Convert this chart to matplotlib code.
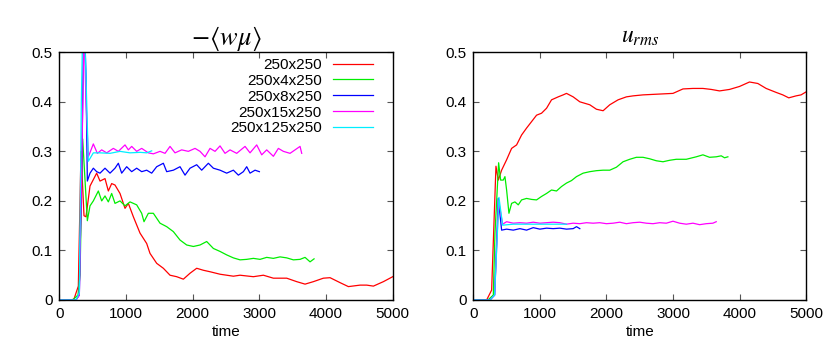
import matplotlib
matplotlib.use("Agg")
import matplotlib.pyplot as plt
from matplotlib.ticker import FuncFormatter

plt.rcParams['font.family'] = ['Liberation Sans', 'DejaVu Sans']
plt.rcParams['mathtext.fontset'] = 'stix'

labels = ["250x250", "250x4x250", "250x8x250", "250x15x250", "250x125x250"]
colors = ["#ff0000", "#00ee00", "#0000ff", "#ff00ff", "#00eeff"]

# ---- left panel: -<w mu> ----
L_red_t = [0, 180, 220, 285, 325, 370, 400, 460, 560, 610, 685, 735, 785, 835, 910, 985, 1035, 1110,
           1210, 1310, 1360, 1460, 1560, 1660, 1760, 1860, 1960, 2060, 2160, 2260, 2410, 2610, 2710,
           2910, 3060, 3210, 3410, 3560, 3685, 3810, 3960, 4060, 4210, 4335, 4510, 4610, 4710, 4860, 5000]
L_red_v = [0, 0, 0.002, 0.028, 0.30, 0.17, 0.168, 0.23, 0.256, 0.24, 0.245, 0.22, 0.235, 0.232, 0.215,
           0.185, 0.195, 0.168, 0.135, 0.114, 0.094, 0.074, 0.064, 0.05, 0.047, 0.042, 0.054, 0.064,
           0.06, 0.057, 0.052, 0.048, 0.05, 0.047, 0.05, 0.044, 0.044, 0.037, 0.032, 0.037, 0.044,
           0.045, 0.035, 0.027, 0.03, 0.03, 0.028, 0.037, 0.047]

L_grn_t = [0, 200, 280, 310, 350, 420, 460, 510, 585, 635, 685, 735, 785, 835, 910, 985, 1060, 1160,
           1235, 1270, 1335, 1410, 1510, 1610, 1710, 1810, 1910, 2010, 2110, 2210, 2310, 2410, 2510,
           2610, 2710, 2810, 2910, 3010, 3110, 3210, 3310, 3410, 3510, 3610, 3685, 3760, 3820]
L_grn_v = [0, 0, 0.01, 0.05, 0.325, 0.16, 0.19, 0.20, 0.22, 0.20, 0.21, 0.198, 0.215, 0.195, 0.20,
           0.19, 0.198, 0.192, 0.175, 0.158, 0.175, 0.175, 0.155, 0.148, 0.138, 0.121, 0.111, 0.108,
           0.111, 0.118, 0.104, 0.098, 0.091, 0.085, 0.081, 0.082, 0.084, 0.082, 0.086, 0.084, 0.087,
           0.085, 0.081, 0.082, 0.086, 0.077, 0.083]

L_blu_t = [0, 250, 300, 340, 370, 400, 420, 460, 510, 560, 610, 685, 760, 835, 885, 935, 1010, 1085,
           1160, 1235, 1310, 1385, 1460, 1560, 1610, 1710, 1810, 1885, 1960, 2060, 2135, 2235, 2310,
           2410, 2510, 2610, 2685, 2760, 2810, 2860, 2935, 3000]
L_blu_v = [0, 0, 0.01, 0.30, 0.60, 0.45, 0.24, 0.256, 0.266, 0.259, 0.256, 0.266, 0.256, 0.266, 0.276,
           0.256, 0.269, 0.259, 0.266, 0.259, 0.262, 0.256, 0.269, 0.276, 0.259, 0.262, 0.269, 0.252,
           0.266, 0.273, 0.262, 0.276, 0.266, 0.262, 0.256, 0.262, 0.252, 0.259, 0.269, 0.256, 0.262,
           0.259]

L_mag_t = [0, 250, 300, 340, 370, 400, 435, 510, 570, 635, 710, 810, 885, 985, 1035, 1085, 1160, 1235,
           1335, 1410, 1510, 1585, 1660, 1735, 1835, 1935, 2035, 2110, 2185, 2260, 2335, 2410, 2485,
           2560, 2660, 2785, 2860, 2960, 3035, 3110, 3210, 3285, 3360, 3460, 3535, 3610, 3635]
L_mag_v = [0, 0, 0.01, 0.30, 0.55, 0.40, 0.289, 0.315, 0.296, 0.303, 0.297, 0.306, 0.30, 0.313, 0.303,
           0.31, 0.30, 0.306, 0.297, 0.295, 0.30, 0.296, 0.31, 0.297, 0.303, 0.30, 0.306, 0.30, 0.289,
           0.306, 0.30, 0.311, 0.296, 0.303, 0.296, 0.31, 0.297, 0.313, 0.293, 0.303, 0.29, 0.306, 0.30,
           0.296, 0.303, 0.31, 0.296]

L_cyn_t = [0, 250, 300, 330, 360, 400, 435, 510, 610, 760, 910, 1060, 1210, 1310, 1385]
L_cyn_v = [0, 0, 0.015, 0.40, 0.62, 0.45, 0.28, 0.297, 0.297, 0.296, 0.30, 0.297, 0.298, 0.297, 0.301]

# ---- right panel: u_rms ----
R_red_t = [0, 200, 275, 340, 375, 425, 500, 575, 650, 725, 800, 875, 950, 1025, 1100, 1175, 1275,
           1350, 1400, 1500, 1600, 1750, 1850, 1950, 2050, 2175, 2300, 2400, 2550, 2700, 2850, 3000,
           3150, 3300, 3450, 3575, 3700, 3850, 4000, 4150, 4275, 4400, 4550, 4650, 4740, 4850, 4925, 5000]
R_red_v = [0, 0, 0.02, 0.27, 0.242, 0.262, 0.283, 0.306, 0.313, 0.333, 0.347, 0.36, 0.373, 0.377,
           0.387, 0.404, 0.41, 0.414, 0.417, 0.41, 0.40, 0.394, 0.385, 0.382, 0.394, 0.404, 0.41, 0.412,
           0.414, 0.415, 0.416, 0.417, 0.426, 0.427, 0.427, 0.425, 0.422, 0.425, 0.431, 0.44, 0.437,
           0.427, 0.419, 0.414, 0.408, 0.412, 0.414, 0.42]

R_grn_t = [0, 220, 300, 325, 380, 410, 450, 475, 500, 535, 575, 625, 675, 725, 800, 875, 950, 1025,
           1100, 1175, 1250, 1325, 1400, 1475, 1550, 1650, 1750, 1850, 1950, 2050, 2150, 2250, 2350,
           2450, 2550, 2650, 2750, 2850, 2950, 3050, 3200, 3350, 3450, 3550, 3650, 3725, 3775, 3825]
R_grn_v = [0, 0, 0.01, 0.135, 0.277, 0.242, 0.242, 0.249, 0.222, 0.175, 0.195, 0.198, 0.192, 0.202,
           0.205, 0.203, 0.202, 0.209, 0.215, 0.222, 0.22, 0.229, 0.236, 0.241, 0.249, 0.256, 0.259,
           0.261, 0.262, 0.262, 0.268, 0.279, 0.284, 0.288, 0.288, 0.285, 0.281, 0.279, 0.282, 0.284,
           0.284, 0.289, 0.293, 0.288, 0.289, 0.291, 0.287, 0.289]

R_blu_t = [0, 250, 320, 375, 425, 500, 600, 700, 800, 900, 1000, 1100, 1200, 1300, 1400, 1500, 1550, 1600]
R_blu_v = [0, 0, 0.01, 0.205, 0.141, 0.143, 0.141, 0.144, 0.141, 0.146, 0.143, 0.145, 0.144, 0.145,
           0.143, 0.144, 0.148, 0.144]

R_mag_t = [0, 250, 320, 380, 440, 500, 600, 700, 800, 900, 1000, 1100, 1200, 1300, 1400, 1500, 1600,
           1700, 1800, 1900, 2000, 2100, 2200, 2300, 2400, 2500, 2600, 2700, 2800, 2900, 3000, 3100,
           3200, 3300, 3400, 3500, 3600, 3650]
R_mag_v = [0, 0, 0.01, 0.20, 0.153, 0.158, 0.155, 0.156, 0.155, 0.157, 0.155, 0.156, 0.157, 0.156,
           0.153, 0.155, 0.154, 0.156, 0.155, 0.156, 0.154, 0.155, 0.157, 0.154, 0.156, 0.157, 0.155,
           0.154, 0.156, 0.155, 0.159, 0.155, 0.153, 0.155, 0.152, 0.154, 0.155, 0.158]

R_cyn_t = [0, 250, 320, 385, 440, 600, 800, 1000, 1200, 1400]
R_cyn_v = [0, 0, 0.01, 0.207, 0.151, 0.153, 0.153, 0.153, 0.153, 0.153]

x_ticks = [0, 1000, 2000, 3000, 4000, 5000]
y_ticks = [0, 0.1, 0.2, 0.3, 0.4, 0.5]

fig = plt.figure(figsize=(8.31, 3.63), dpi=100)
axL = fig.add_axes([0.0714, 0.1736, 0.4012, 0.6824])
axR = fig.add_axes([0.5696, 0.1736, 0.4004, 0.6824])

left_series = [(L_red_t, L_red_v), (L_grn_t, L_grn_v), (L_blu_t, L_blu_v),
               (L_mag_t, L_mag_v), (L_cyn_t, L_cyn_v)]
right_series = [(R_red_t, R_red_v), (R_grn_t, R_grn_v), (R_blu_t, R_blu_v),
                (R_mag_t, R_mag_v), (R_cyn_t, R_cyn_v)]

fmt = FuncFormatter(lambda v, p: "0" if abs(v) < 1e-9 else (f"{v:.1f}" if v < 1 else f"{int(v)}"))

FS = 11
for ax, series in ((axL, left_series), (axR, right_series)):
    for (t, v), c, lab in zip(series, colors, labels):
        ax.plot(t, v, color=c, lw=0.9, label=lab)
    ax.set_xlim(0, 5000)
    ax.set_ylim(0, 0.5)
    ax.set_xticks(x_ticks)
    ax.set_yticks(y_ticks)
    ax.yaxis.set_major_formatter(fmt)
    ax.xaxis.set_major_formatter(FuncFormatter(lambda v, p: f"{int(v)}"))
    ax.tick_params(direction='in', length=4, width=0.8, color='#555555',
                   top=True, right=True, labelsize=FS, pad=5)
    for s in ax.spines.values():
        s.set_linewidth(1.0)
        s.set_color('black')
    ax.set_xlabel("time", fontsize=FS, labelpad=3)

axL.set_title(r"$-\langle w\mu\rangle$", fontsize=19, pad=5)
axR.set_title(r"$u_{rms}$", fontsize=17, pad=7)

leg = axL.legend(loc='upper right', bbox_to_anchor=(0.972, 1.02), frameon=False,
                 markerfirst=False, fontsize=FS, handlelength=2.6, handletextpad=0.75,
                 labelspacing=0.12, borderpad=0.2)

fig.savefig("out.png", dpi=100)
